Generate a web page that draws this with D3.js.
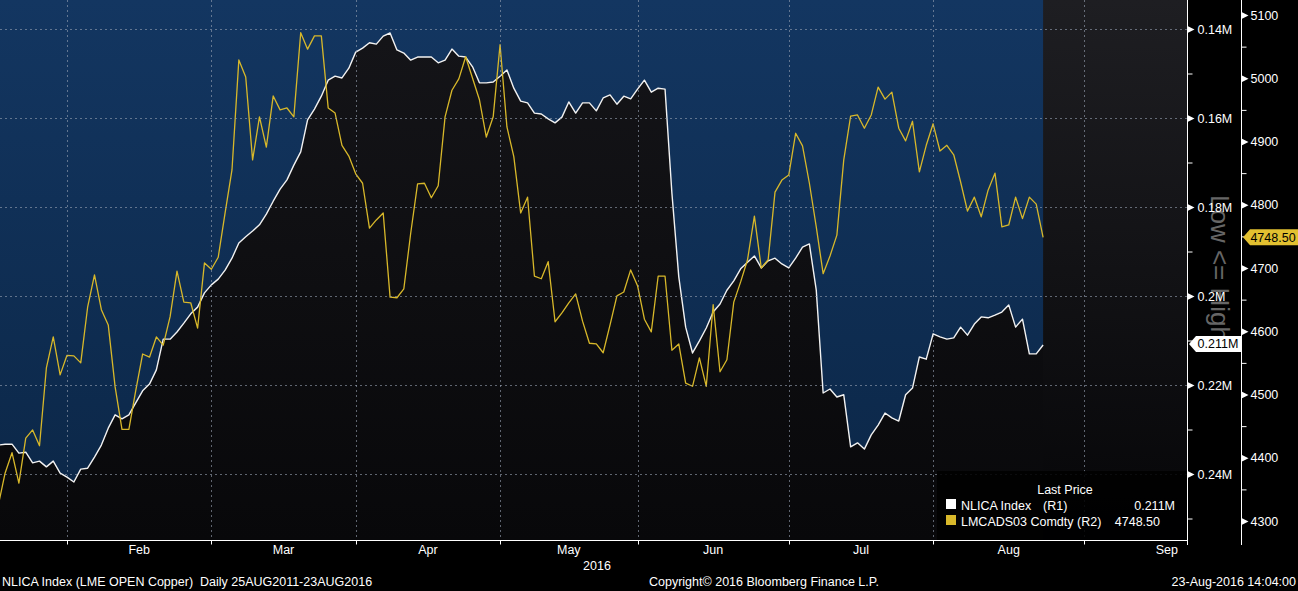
<!DOCTYPE html>
<html><head><meta charset="utf-8">
<script src="https://cdn.jsdelivr.net/npm/d3@7"></script>
<style>
html,body{margin:0;padding:0;background:#000;}
svg{display:block;}
text{font-family:"Liberation Sans",Arial,sans-serif;}
</style></head><body>
<svg id="c" width="1298" height="591"></svg>
<script>
// NLICA Index (LME open copper), thousands of tonnes — one value per LME trading day, 18 Jan 2016 .. 23 Aug 2016
const nlica = [
233.5,233.3,233.3,235.3,235.1,237.5,237.1,238.4,237.1,239.8,
240.7,241.8,238.9,238.7,236.2,233.5,229.7,226.7,227.6,226.7,
224.0,221.3,219.8,216.6,209.7,209.7,208.1,206.1,204.0,202.5,
199.3,197.5,196.2,194.2,191.5,188.1,186.7,185.4,184.0,181.6,
178.7,176.0,173.9,170.6,167.6,160.4,158.0,155.1,151.5,150.6,
151.0,148.8,145.2,144.3,143.1,143.4,141.6,140.9,144.7,145.4,
147.0,146.3,146.3,146.3,147.6,147.0,144.5,146.1,146.3,148.5,
152.1,152.1,151.9,150.6,149.2,153.3,156.2,156.6,158.9,159.1,
160.2,161.1,159.8,156.4,158.9,156.6,156.6,158.4,155.5,154.8,
156.9,155.1,155.7,153.5,151.5,154.2,153.3,153.5,176.9,195.7,
207.0,212.8,210.1,207.2,203.6,201.8,198.7,196.6,193.9,192.4,
191.0,193.7,192.1,191.5,192.8,193.7,191.5,189.0,188.3,198.7,
221.8,220.9,222.7,222.2,233.9,233.0,234.4,231.2,229.0,226.3,
227.4,228.1,222.2,220.7,213.7,214.2,208.5,209.2,209.7,209.4,
207.0,208.8,206.3,204.7,204.9,204.3,203.6,202.0,207.0,205.2,
213.0,213.0,211.0];
// LMCADS03 Comdty (LME copper 3M), USD/t
const lmcads = [
4325,4376,4408,4360,4431,4444,4419,4542,4591,4531,
4562,4561,4550,4638,4689,4634,4610,4512,4445,4445,
4506,4564,4559,4591,4578,4623,4695,4646,4645,4605,
4708,4698,4717,4787,4855,5029,5002,4871,4939,4891,
4972,4950,4953,4939,5072,5046,5067,5067,4953,4945,
4894,4877,4849,4834,4763,4776,4787,4654,4653,4667,
4755,4833,4834,4811,4830,4939,4981,4999,5034,5000,
4966,4907,4939,5053,4923,4876,4787,4812,4687,4683,
4710,4615,4629,4645,4659,4616,4581,4580,4566,4610,
4656,4662,4697,4672,4619,4599,4687,4687,4570,4580,
4518,4513,4558,4513,4642,4536,4555,4646,4678,4713,
4782,4700,4713,4820,4839,4847,4913,4893,4834,4765,
4691,4719,4752,4871,4940,4942,4921,4942,4986,4967,
4978,4921,4901,4932,4852,4894,4928,4885,4894,4879,
4836,4790,4812,4781,4823,4850,4765,4768,4812,4778,
4812,4801,4748.5];

// month ticks: trading-day index of first trading day of each month
const monthTicks = [10, 31, 52, 73, 93, 115, 136, 158];
const monthNames = ["Feb","Mar","Apr","May","Jun","Jul","Aug","Sep"];
const monthLabelPos = [20.5, 41.5, 62.5, 83, 104, 125.5, 147, 170];
const yearLabel = "2016";

const r1Ticks = [140,160,180,200,220,240];
const r1Labels = ["0.14M","0.16M","0.18M","0.2M","0.22M","0.24M"];
const r1Minor = [150,170,190,210,230,250];
const r2Ticks = [5100,5000,4900,4800,4700,4600,4500,4400,4300];
const r2Minor = [5050,4950,4850,4750,4650,4550,4450,4350];

const lastNlicaLabel = "0.211M";
const lastCopperLabel = "4748.50";

const svg = d3.select("#c");
const PR = 1187, PB = 540;
const x = d3.scaleLinear().domain([0, 152]).range([-1.74, 1043.1]);
const yL = d3.scaleLinear().domain([140, 240]).range([29, 474]);
const yR = d3.scaleLinear().domain([5100, 4300]).range([15, 521]);

const defs = svg.append("defs");
const bg = defs.append("linearGradient").attr("id","bg").attr("x1",0).attr("y1",0).attr("x2",0).attr("y2",1);
bg.append("stop").attr("offset","0").attr("stop-color","#1e1e22");
bg.append("stop").attr("offset","1").attr("stop-color","#060608");
const dk = defs.append("linearGradient").attr("id","dk").attr("gradientUnits","userSpaceOnUse").attr("x1",0).attr("y1",0).attr("x2",0).attr("y2",540);
dk.append("stop").attr("offset","0").attr("stop-color","#151519");
dk.append("stop").attr("offset","1").attr("stop-color","#08080a");
const bl = defs.append("linearGradient").attr("id","bl").attr("gradientUnits","userSpaceOnUse").attr("x1",0).attr("y1",0).attr("x2",0).attr("y2",540);
bl.append("stop").attr("offset","0").attr("stop-color","#133661");
bl.append("stop").attr("offset","1").attr("stop-color","#0b2646");
defs.append("clipPath").attr("id","clip").append("rect").attr("x",0).attr("y",0).attr("width",PR).attr("height",PB);

svg.append("rect").attr("width",1298).attr("height",591).attr("fill","#000");
svg.append("rect").attr("x",0).attr("y",0).attr("width",PR).attr("height",PB).attr("fill","url(#bg)");

const g = svg.append("g").attr("clip-path","url(#clip)");
g.append("path").datum(nlica)
  .attr("d", d3.area().x((d,i)=>x(i)).y0(0).y1(d=>yL(d)))
  .attr("fill","url(#bl)");
g.append("path").datum(nlica)
  .attr("d", d3.area().x((d,i)=>x(i)).y0(PB).y1(d=>yL(d)))
  .attr("fill","url(#dk)");

// gridlines
const grid = svg.append("g").attr("stroke","#9aa4b4").attr("stroke-opacity",0.6).attr("stroke-dasharray","2,3").attr("stroke-width",1);
r1Ticks.forEach(v=>{ const yy=Math.round(yL(v))+0.5; grid.append("line").attr("x1",0).attr("x2",PR).attr("y1",yy).attr("y2",yy); });
monthTicks.forEach(v=>{ const xx=Math.round(x(v))+0.5; grid.append("line").attr("x1",xx).attr("x2",xx).attr("y1",0).attr("y2",PB); });

// lines
g.append("path").datum(nlica)
  .attr("d", d3.line().x((d,i)=>x(i)).y(d=>yL(d)))
  .attr("fill","none").attr("stroke","#f2f2f2").attr("stroke-width",1.4).attr("stroke-linejoin","round");

// "Low <= High" watermark
svg.append("text").attr("transform","translate(1211,195) rotate(90)")
  .attr("font-size",26).attr("fill","#666").text("Low <= High");

g.append("path").datum(lmcads)
  .attr("d", d3.line().x((d,i)=>x(i)).y(d=>yR(d)))
  .attr("fill","none").attr("stroke","#d8b82a").attr("stroke-width",1.3).attr("stroke-linejoin","round");

// legend
const lg = svg.append("g");
lg.append("rect").attr("x",937).attr("y",471).attr("width",250).attr("height",69).attr("fill","#000").attr("fill-opacity",0.88);
lg.append("text").attr("x",1065).attr("y",494).attr("text-anchor","middle").attr("fill","#fff").attr("font-size",12.5).text("Last Price");
lg.append("rect").attr("x",946).attr("y",499).attr("width",10).attr("height",10).attr("fill","#fff");
lg.append("rect").attr("x",946).attr("y",515).attr("width",10).attr("height",10).attr("fill","#d8b82a");
lg.append("text").attr("x",961).attr("y",510).attr("fill","#fff").attr("font-size",12.5).text("NLICA Index");
lg.append("text").attr("x",1043).attr("y",510).attr("fill","#fff").attr("font-size",12.5).text("(R1)");
lg.append("text").attr("x",1175).attr("y",510).attr("text-anchor","end").attr("fill","#fff").attr("font-size",12.5).text(lastNlicaLabel);
lg.append("text").attr("x",961).attr("y",526).attr("fill","#fff").attr("font-size",12.5).text("LMCADS03 Comdty");
lg.append("text").attr("x",1077).attr("y",526).attr("fill","#fff").attr("font-size",12.5).text("(R2)");
lg.append("text").attr("x",1160).attr("y",526).attr("text-anchor","end").attr("fill","#fff").attr("font-size",12.5).text(lastCopperLabel);

// axes lines
svg.append("line").attr("x1",0).attr("x2",PR+0.5).attr("y1",PB+0.5).attr("y2",PB+0.5).attr("stroke","#fff");
svg.append("line").attr("x1",PR+0.5).attr("x2",PR+0.5).attr("y1",0).attr("y2",PB+5).attr("stroke","#fff");
svg.append("line").attr("x1",1241.5).attr("x2",1241.5).attr("y1",0).attr("y2",PB+5).attr("stroke","#fff");

function styleAxis(sel, fs){
  sel.select(".domain").remove();
  sel.selectAll("text").attr("fill","#fff").attr("font-size",fs).attr("font-family","Liberation Sans, Arial, sans-serif");
  sel.selectAll("line").attr("stroke","#fff");
}
const a1 = svg.append("g").attr("transform",`translate(${PR+0.5},0)`)
  .call(d3.axisRight(yL).tickValues(r1Ticks).tickFormat((d,i)=>r1Labels[i]).tickSize(0).tickPadding(10));
styleAxis(a1, 12.5);
a1.selectAll(".tick").append("path").attr("d","M0,-3.5L7,0L0,3.5Z").attr("fill","#fff");
const a1m = svg.append("g").attr("transform",`translate(${PR+0.5},0)`)
  .call(d3.axisRight(yL).tickValues(r1Minor).tickFormat("").tickSize(5));
styleAxis(a1m, 10);

const a2 = svg.append("g").attr("transform","translate(1241.5,0)")
  .call(d3.axisRight(yR).tickValues(r2Ticks).tickFormat(d3.format("d")).tickSize(0).tickPadding(9));
styleAxis(a2, 12.5);
a2.selectAll(".tick").append("path").attr("d","M0,-3.5L7,0L0,3.5Z").attr("fill","#fff");
const a2m = svg.append("g").attr("transform","translate(1241.5,0)")
  .call(d3.axisRight(yR).tickValues(r2Minor).tickFormat("").tickSize(5));
styleAxis(a2m, 10);

const ax = svg.append("g").attr("transform",`translate(0,${PB+0.5})`)
  .call(d3.axisBottom(x).tickValues(monthTicks).tickFormat("").tickSize(4));
styleAxis(ax, 10);
ax.selectAll(".tick").attr("transform", d=>`translate(${Math.round(x(d))+0.5},0)`);

monthNames.forEach((m,i)=>{
  svg.append("text").attr("x",x(monthLabelPos[i])).attr("y",554).attr("text-anchor","middle")
    .attr("fill","#fff").attr("font-size",12.5).text(m);
});
svg.append("text").attr("x",597).attr("y",570).attr("text-anchor","middle").attr("fill","#fff").attr("font-size",12.5).text(yearLabel);

// last value tags
const lastN = nlica[nlica.length-1], lastC = lmcads[lmcads.length-1];
const yn = yL(lastN)-1;
svg.append("path").attr("d",`M1189,${yn}L1196,${yn-8}L1241,${yn-8}L1241,${yn+8}L1196,${yn+8}Z`).attr("fill","#fff");
svg.append("text").attr("x",1218).attr("y",yn).attr("dy","0.35em").attr("text-anchor","middle").attr("fill","#000").attr("font-size",12.5).text(lastNlicaLabel);
const yc = yR(lastC);
svg.append("path").attr("d",`M1243,${yc}L1250,${yc-8}L1298,${yc-8}L1298,${yc+8}L1250,${yc+8}Z`).attr("fill","#e2c030");
svg.append("text").attr("x",1273).attr("y",yc).attr("dy","0.35em").attr("text-anchor","middle").attr("fill","#000").attr("font-size",12.5).text(lastCopperLabel);

// footer
svg.append("text").attr("x",2).attr("y",586).attr("fill","#fff").attr("font-size",12.5).attr("xml:space","preserve").text("NLICA Index (LME OPEN Copper)  Daily 25AUG2011-23AUG2016");
svg.append("text").attr("x",649).attr("y",586).attr("fill","#fff").attr("font-size",12.5).text("Copyright\u00A9 2016 Bloomberg Finance L.P.");
svg.append("text").attr("x",1296).attr("y",586).attr("text-anchor","end").attr("fill","#fff").attr("font-size",12.5).text("23-Aug-2016 14:04:00");
</script>
</body></html>
